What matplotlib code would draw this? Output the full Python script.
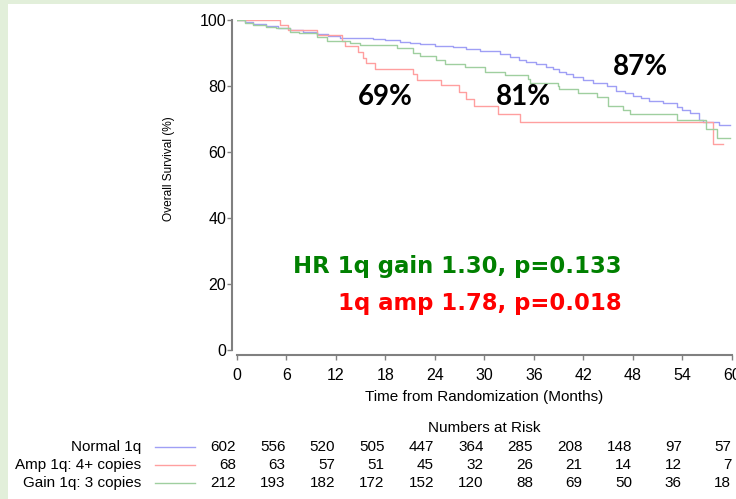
"""
plot.py - Kaplan-Meier overall survival by 1q copy-number status,
with a numbers-at-risk table below the axes.
"""

import matplotlib

matplotlib.use("Agg")
import matplotlib.pyplot as plt
from matplotlib.lines import Line2D
from matplotlib.patches import Rectangle
from matplotlib.transforms import blended_transform_factory

plt.rcParams["font.family"] = ["Liberation Sans", "DejaVu Sans"]

# ------------------------------------------------------------------ data

# step curves: month of each drop and survival (%) after it
normal_t = [0, 1.0, 2.0, 3.5, 5.0, 6.5, 8.0, 9.7, 11.0, 12.5, 16.5, 18.0,
            19.8, 21.0, 22.2, 24.0, 26.2, 27.8, 29.5, 31.9, 33.1, 34.2,
            35.1, 36.3, 37.5, 38.3, 39.1, 39.9, 40.7, 42.0, 43.2, 44.8,
            46.0, 47.0, 48.0, 49.0, 50.0, 51.6, 53.3, 54.0, 54.9, 56.0,
            56.5, 58.4, 59.8]
normal_s = [100, 99.4, 98.8, 98.2, 97.6, 97.0, 96.4, 95.8, 95.1, 94.4,
            94.2, 93.8, 93.4, 93.0, 92.7, 92.2, 91.7, 91.2, 90.7, 89.7,
            88.7, 88.0, 87.4, 86.6, 85.9, 85.1, 84.3, 83.5, 82.8, 81.8,
            80.8, 80.0, 78.5, 77.8, 77.1, 76.3, 75.5, 74.7, 73.7, 72.7,
            71.7, 69.7, 69.2, 68.2, 68.2]

amp_t = [0, 5.2, 6.2, 9.7, 12.7, 13.1, 14.7, 15.3, 15.7, 16.8, 21.4, 21.9,
         24.8, 26.9, 27.8, 28.7, 31.6, 34.3, 57.7, 58.9]
amp_s = [100, 98.5, 97.0, 95.5, 93.6, 92.1, 90.2, 88.4, 86.9, 85.3, 83.5,
         81.7, 80.2, 78.2, 76.0, 73.9, 71.4, 69.1, 62.3, 62.3]

gain_t = [0, 1.0, 2.0, 3.5, 4.8, 6.5, 7.5, 9.7, 10.9, 13.7, 14.9, 19.4,
          21.4, 22.2, 24.2, 25.2, 27.6, 30.1, 32.5, 35.3, 35.5, 38.9, 39.1,
          41.4, 43.6, 45.0, 46.8, 47.6, 53.3, 56.8, 58.2, 59.8]
gain_s = [100, 99.0, 98.5, 98.0, 97.5, 96.5, 96.0, 95.0, 93.7, 92.9, 92.4,
          91.4, 89.9, 89.1, 87.9, 86.6, 85.7, 84.1, 83.3, 82.1, 81.0, 80.0,
          79.0, 78.0, 76.6, 73.9, 72.7, 71.4, 69.7, 67.0, 64.1, 64.1]

group_names = ["Normal 1q", "Amp 1q: 4+ copies", "Gain 1q: 3 copies"]
group_colors = ["#9f9ff5", "#ff9f9f", "#9fcf9f"]

risk_months = [0, 6, 12, 18, 24, 30, 36, 42, 48, 54, 60]
risk_normal = [602, 556, 520, 505, 447, 364, 285, 208, 148, 97, 57]
risk_amp = [68, 63, 57, 51, 45, 32, 26, 21, 14, 12, 7]
risk_gain = [212, 193, 182, 172, 152, 120, 88, 69, 50, 36, 18]

# 3-year survival callouts: (label, month, percent)
callouts = [("69%", 17.95, 74.2), ("81%", 34.7, 74.2), ("87%", 48.9, 83.3)]

hr_gain_text = "HR 1q gain 1.30, p=0.133"
hr_amp_text = "1q amp 1.78, p=0.018"

GRAY = "#808080"


def main() -> None:
    fig = plt.figure(figsize=(7.36, 4.99), dpi=100)
    fig.patch.set_facecolor("#e2efda")
    fig.add_artist(Rectangle((8 / 736, 0), 1, 1 - 4 / 499,
                             transform=fig.transFigure, facecolor="white",
                             edgecolor="none", zorder=-5))

    ax = fig.add_axes([0.3216, 0.2986, 0.673, 0.6613])
    ax.patch.set_visible(False)

    curves = [(normal_t, normal_s), (amp_t, amp_s), (gain_t, gain_s)]
    for (t, s), color in zip(curves, group_colors):
        ax.step(t, s, where="post", color=color, linewidth=1.0)

    ax.set_xlim(0, 60)
    ax.set_ylim(0, 100)
    ax.set_xticks(risk_months)
    ax.set_yticks([0, 20, 40, 60, 80, 100])

    for side in ("top", "right"):
        ax.spines[side].set_visible(False)
    for side in ("left", "bottom"):
        ax.spines[side].set_position(("outward", 3.5))
        ax.spines[side].set_color(GRAY)
        ax.spines[side].set_linewidth(1.5)
    ax.tick_params(axis="both", direction="out", length=3.6, width=1.0,
                   color=GRAY, labelsize=11.5, labelcolor="black")
    ax.tick_params(axis="y", pad=0.5)
    ax.tick_params(axis="x", pad=6)

    ax.set_xlabel("Time from Randomization (Months)", fontsize=11)
    ax.xaxis.set_label_coords(0.5, -0.122)
    ax.set_ylabel("Overall Survival (%)", fontsize=8.6,
                  family=["Liberation Sans Narrow", "Liberation Sans"])
    ax.yaxis.set_label_coords(-0.1246, 0.55)

    # callouts
    for label, xm, yp in callouts:
        ax.text(xm, yp, label, ha="center", va="baseline", fontsize=20,
                fontweight="bold", family=["Lato", "DejaVu Sans"],
                color="black")
    ax.text(46.6, 23.3, hr_gain_text, ha="right", va="baseline",
            fontsize=16.4, fontweight="bold", family=["DejaVu Sans"],
            color="#008000")
    ax.text(46.6, 12.1, hr_amp_text, ha="right", va="baseline",
            fontsize=16.4, fontweight="bold", family=["DejaVu Sans"],
            color="#ff0000")

    # numbers at risk, columns right-aligned under each x tick
    trans = blended_transform_factory(ax.transData, fig.transFigure)
    fig.text(484 / 736, 1 - 428 / 499, "Numbers at Risk", ha="center",
             va="center", fontsize=11)
    rows = [risk_normal, risk_amp, risk_gain]
    row_y = [1 - 446.7 / 499, 1 - 465 / 499, 1 - 482.7 / 499]
    for name, color, counts, y in zip(group_names, group_colors, rows, row_y):
        fig.text(140.8 / 736, y, name, ha="right", va="center", fontsize=11)
        fig.add_artist(Line2D([155 / 736, 195 / 736], [y, y], color=color,
                              linewidth=1.0, transform=fig.transFigure))
        for m, n in zip(risk_months, counts):
            ax.text(m - 0.1, y, str(n), transform=trans, ha="right",
                    va="center", fontsize=11, clip_on=False)

    fig.savefig("out.png", dpi=100, facecolor=fig.get_facecolor())
    plt.close(fig)


if __name__ == "__main__":
    main()
